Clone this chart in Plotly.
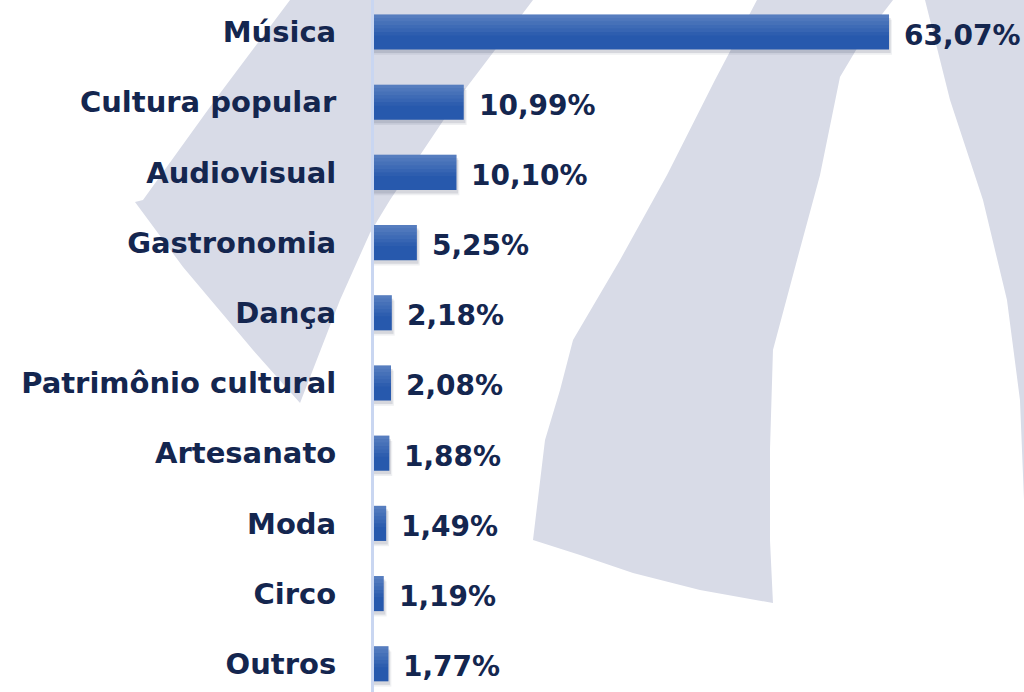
import plotly.graph_objects as go

# ---- data ----
categories = ["Música", "Cultura popular", "Audiovisual", "Gastronomia", "Dança",
              "Patrimônio cultural", "Artesanato", "Moda", "Circo", "Outros"]
values = [63.07, 10.99, 10.10, 5.25, 2.18, 2.08, 1.88, 1.49, 1.19, 1.77]
value_labels = ["63,07%", "10,99%", "10,10%", "5,25%", "2,18%",
                "2,08%", "1,88%", "1,49%", "1,19%", "1,77%"]

W, H = 1024, 692
ML = 374
PW = W - ML

NAVY = "#14264f"
BAR = "#2759ad"
WM = "#d8dbe7"
FONT = "DejaVu Sans"
BW = 0.5  # bar thickness (category units)


def to_paper(pts):
    return [((x - ML) / PW, 1 - y / H) for x, y in pts]


def path(pts):
    p = to_paper(pts)
    s = "M {:.4f},{:.4f} ".format(*p[0])
    s += " ".join("L {:.4f},{:.4f}".format(*q) for q in p[1:])
    return s + " Z"


# background watermark shapes (decoration)
left_band = [(290, 0), (533, 0), (457, 100), (390, 200), (370, 233), (340, 300),
             (300, 403), (253, 350), (183, 267), (135, 202), (143, 200), (215, 100)]
mid_band = [(757, 0), (893, 0), (862, 40), (840, 77), (820, 175), (797, 260), (773, 350),
            (770, 450), (770, 540), (773, 603), (700, 590), (633, 573), (580, 555),
            (533, 540), (545, 440), (560, 390), (573, 340), (620, 260), (667, 175), (715, 80)]
right_band = [(925, 0), (1024, 0), (1024, 692), (1024, 500), (1020, 400), (1007, 300),
              (983, 200), (950, 100)]

shapes = []
for pts in (left_band, mid_band, right_band):
    shapes.append(dict(type="path", path=path(pts), xref="paper", yref="paper",
                       fillcolor=WM, line=dict(width=0), layer="below"))

fig = go.Figure()

# soft drop shadow
for dx, dy, a in [(0.35, 0.075, 0.07), (0.2, 0.05, 0.12)]:
    fig.add_trace(go.Bar(
        y=categories, x=[v + dx for v in values], orientation="h",
        width=BW, offset=-BW / 2 + dy,
        marker=dict(color=f"rgba(30,40,70,{a})", line=dict(width=0)),
        hoverinfo="skip", showlegend=False,
    ))

# main bars
fig.add_trace(go.Bar(
    y=categories, x=values, orientation="h",
    width=BW, offset=-BW / 2,
    marker=dict(color=BAR, line=dict(width=0)),
    showlegend=False,
))

# top highlight strips emulate the vertical gradient
n = 6
for i in range(n):
    a = 0.22 * (1 - i / n)
    fig.add_trace(go.Bar(
        y=categories, x=values, orientation="h",
        width=BW * 0.1, offset=-BW / 2 + i * BW * 0.1,
        marker=dict(color=f"rgba(255,255,255,{a:.3f})", line=dict(width=0)),
        hoverinfo="skip", showlegend=False,
    ))

annotations = []
for c, v, t in zip(categories, values, value_labels):
    annotations.append(dict(x=v, y=c, xref="x", yref="y", text=t, showarrow=False,
                            xanchor="left", yanchor="middle", xshift=13, yshift=-3,
                            font=dict(family=FONT, size=28, color=NAVY, weight=700)))

fig.update_layout(
    width=W, height=H,
    margin=dict(l=ML, r=0, t=0, b=0, pad=0),
    paper_bgcolor="white", plot_bgcolor="rgba(0,0,0,0)",
    shapes=shapes, annotations=annotations,
    barmode="overlay",
    xaxis=dict(range=[0, PW / 8.166], visible=False, fixedrange=True),
    yaxis=dict(
        type="category", range=[9.402, -0.456],
        showgrid=False, zeroline=False,
        showline=True, linecolor="#c9d6f1", linewidth=3,
        ticks="", ticklabelstandoff=29,
        tickfont=dict(family=FONT, size=29, color=NAVY, weight=700),
    ),
    font=dict(family=FONT, color=NAVY),
)

fig.write_html(
    "out.html",
    config={"displayModeBar": False},
    post_script="document.body.style.margin='0';document.body.style.overflow='hidden';"
                "document.documentElement.style.overflow='hidden';",
)
